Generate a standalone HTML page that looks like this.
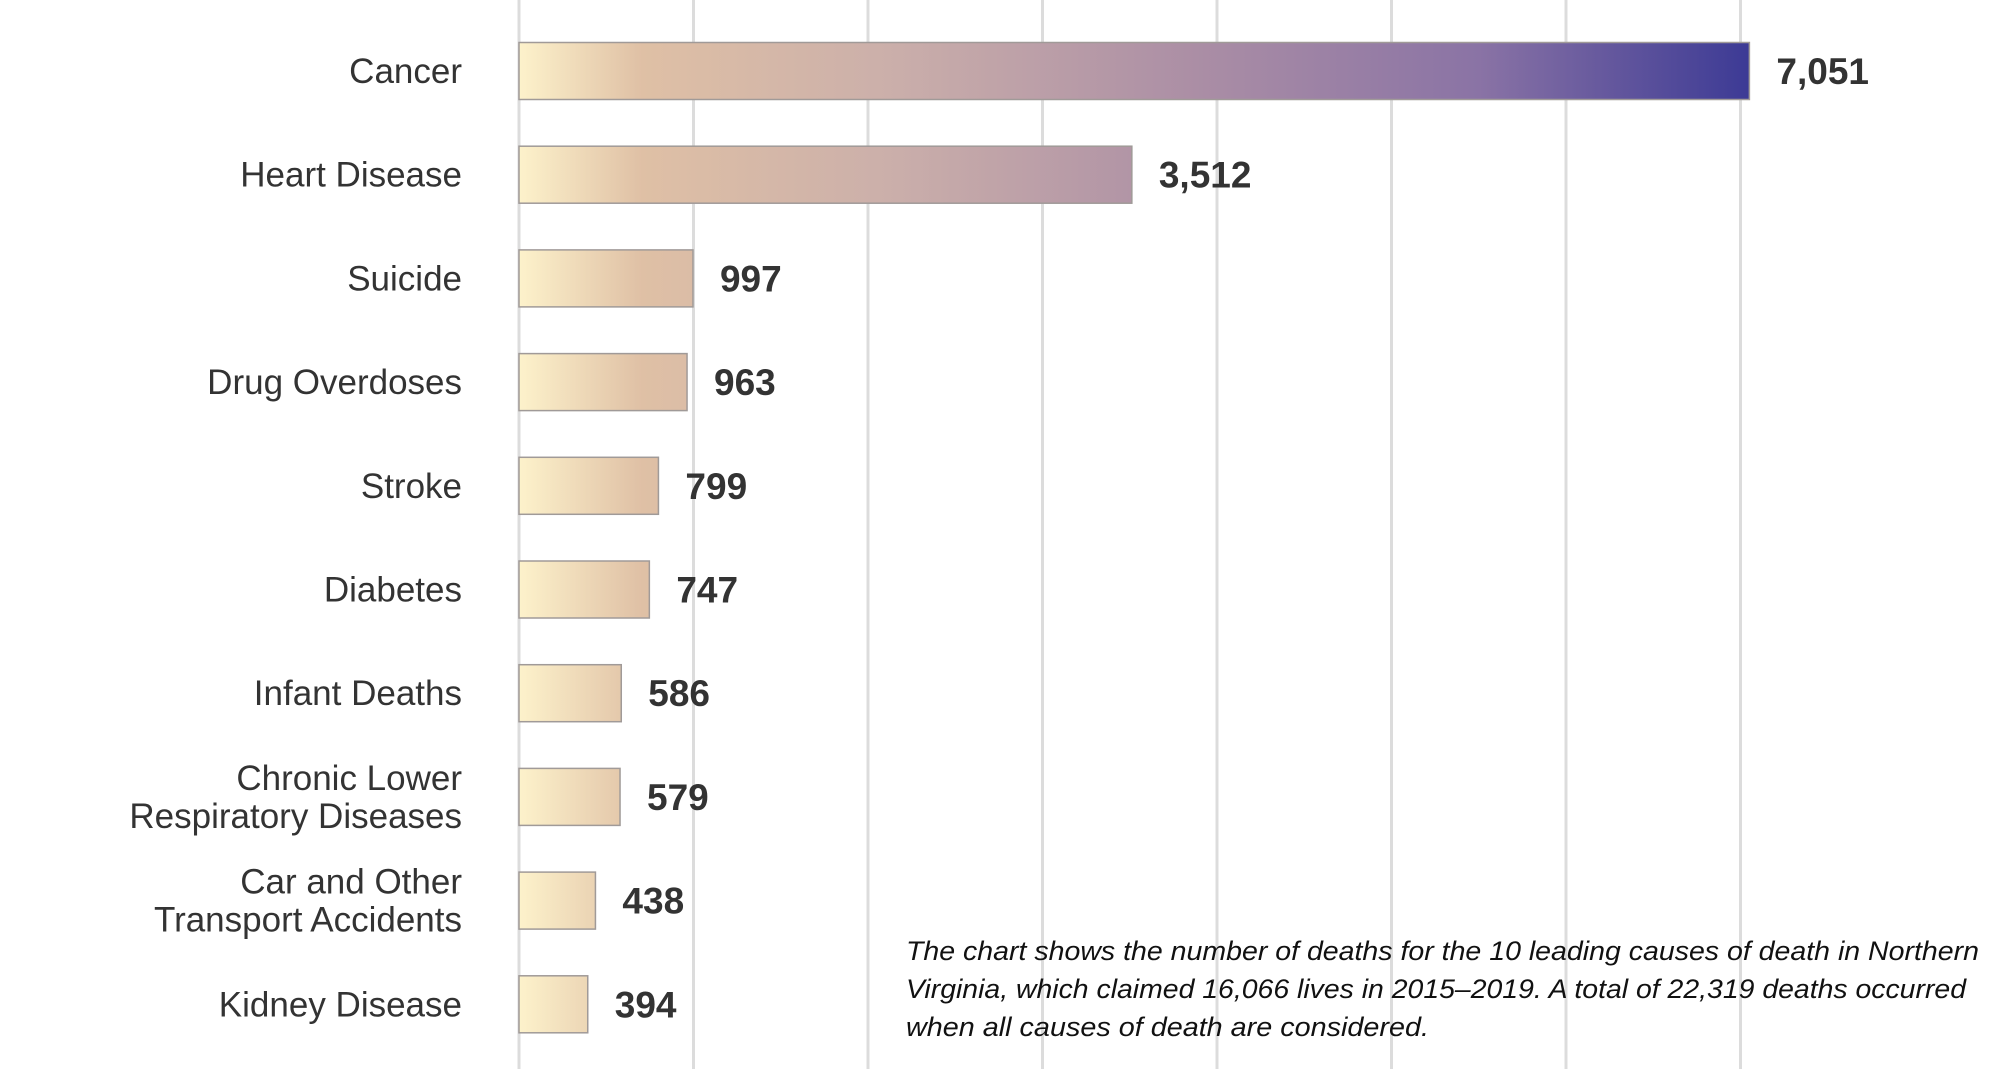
<!DOCTYPE html>
<html><head><meta charset="utf-8"><style>
html,body{margin:0;padding:0;background:#fff;}
svg{display:block;}
.lbl{font-family:"Liberation Sans",sans-serif;font-size:35px;fill:#333;}
.val{font-family:"Liberation Sans Narrow","Liberation Sans",sans-serif;font-weight:bold;font-size:37px;fill:#333;}
.note{font-family:"Liberation Sans",sans-serif;font-style:italic;font-size:27px;fill:#111;}
</style></head><body>
<svg id="chart" width="2013" height="1069" viewBox="0 0 2013 1069" xmlns="http://www.w3.org/2000/svg">
<defs>
<linearGradient id="grad" gradientUnits="userSpaceOnUse" x1="519" y1="0" x2="1750" y2="0">
<stop offset="0" stop-color="#fdf2cb"/>
<stop offset="0.1" stop-color="#dfc0a5"/>
<stop offset="0.3" stop-color="#cbafaa"/>
<stop offset="0.55" stop-color="#ab8ea5"/>
<stop offset="0.78" stop-color="#8a73a5"/>
<stop offset="1" stop-color="#3c3a95"/>
</linearGradient>
</defs>
<g id="grid"></g>
<g id="bars"></g>
<g>
<text class="note" x="906" y="960" textLength="1073" lengthAdjust="spacingAndGlyphs">The chart shows the number of deaths for the 10 leading causes of death in Northern</text>
<text class="note" x="906" y="998" textLength="1060" lengthAdjust="spacingAndGlyphs">Virginia, which claimed 16,066 lives in 2015–2019. A total of 22,319 deaths occurred</text>
<text class="note" x="906" y="1036" textLength="523" lengthAdjust="spacingAndGlyphs">when all causes of death are considered.</text>
</g>
</svg>
<script>
const categories = [["Cancer"],["Heart Disease"],["Suicide"],["Drug Overdoses"],["Stroke"],["Diabetes"],["Infant Deaths"],["Chronic Lower","Respiratory Diseases"],["Car and Other","Transport Accidents"],["Kidney Disease"]];
const values = [7051,3512,997,963,799,747,586,579,438,394];
const valueLabels = ["7,051","3,512","997","963","799","747","586","579","438","394"];
const gridTicks = [0,1000,2000,3000,4000,5000,6000,7000];

const NS = "http://www.w3.org/2000/svg";
const x0 = 519, pxPerUnit = 0.1745;
function xScale(v){ return x0 + v * pxPerUnit; }
function yCenter(i){ return 71 + i * 103.7; }
const barH = 57;

const grid = document.getElementById('grid');
gridTicks.forEach(t => {
  const l = document.createElementNS(NS,'line');
  l.setAttribute('x1', xScale(t)); l.setAttribute('x2', xScale(t));
  l.setAttribute('y1', 0); l.setAttribute('y2', 1069);
  l.setAttribute('stroke', '#dcdcdc'); l.setAttribute('stroke-width', 3);
  
  
  grid.appendChild(l);
});

const bars = document.getElementById('bars');
values.forEach((v, i) => {
  const cy = yCenter(i);
  const r = document.createElementNS(NS,'rect');
  r.setAttribute('x', x0); r.setAttribute('y', cy - barH/2);
  r.setAttribute('width', xScale(v) - x0); r.setAttribute('height', barH);
  r.setAttribute('fill', 'url(#grad)');
  r.setAttribute('stroke', '#a09a98'); r.setAttribute('stroke-width', 1.5);
  
  
  bars.appendChild(r);

  const vt = document.createElementNS(NS,'text');
  vt.setAttribute('class', 'val');
  vt.setAttribute('x', xScale(v) + 27); vt.setAttribute('y', cy + 13);
  vt.textContent = valueLabels[i];
  
  
  bars.appendChild(vt);

  const lines = categories[i];
  lines.forEach((ln, j) => {
    const t = document.createElementNS(NS,'text');
    t.setAttribute('class', 'lbl');
    t.setAttribute('x', 462);
    const off = (j - (lines.length - 1)/2) * 38;
    t.setAttribute('y', cy + off + 12);
    t.setAttribute('text-anchor', 'end');
    t.textContent = ln;
    
    
    bars.appendChild(t);
  });
});
</script>
</body></html>
